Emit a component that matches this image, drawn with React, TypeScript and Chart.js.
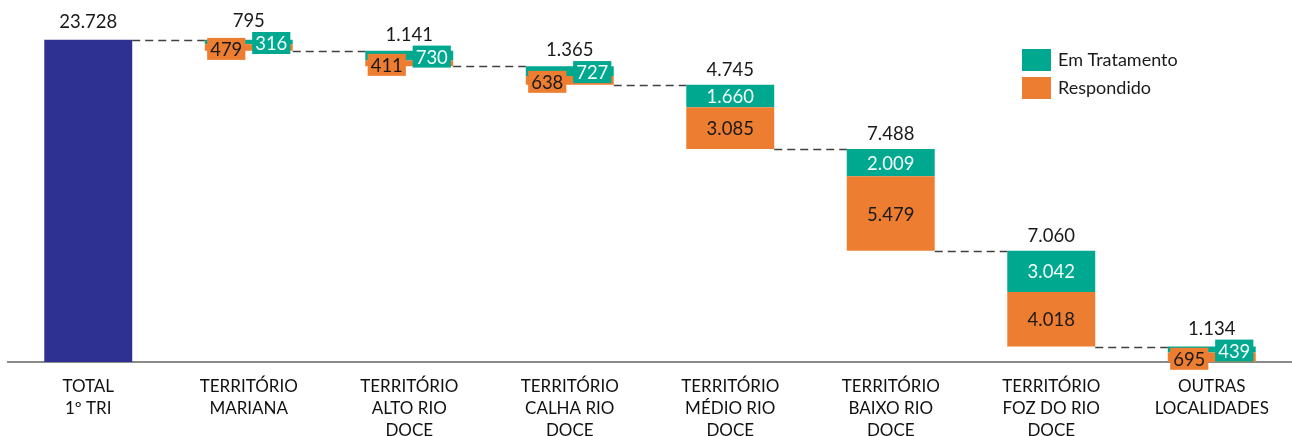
import React, { useEffect, useRef } from "react";
import { Chart, registerables } from "chart.js";

Chart.register(...registerables);

const categories: string[][] = [
  ["TOTAL", "1º TRI"],
  ["TERRITÓRIO", "MARIANA"],
  ["TERRITÓRIO", "ALTO RIO", "DOCE"],
  ["TERRITÓRIO", "CALHA RIO", "DOCE"],
  ["TERRITÓRIO", "MÉDIO RIO", "DOCE"],
  ["TERRITÓRIO", "BAIXO RIO", "DOCE"],
  ["TERRITÓRIO", "FOZ DO RIO", "DOCE"],
  ["OUTRAS", "LOCALIDADES"],
];
const totalValue = 23728;
const respondido = [479, 411, 638, 3085, 5479, 4018, 695];
const emTratamento = [316, 730, 727, 1660, 2009, 3042, 439];

const NAVY = "#2E3192";
const TEAL = "#00A88F";
const ORANGE = "#ED7D31";
const TEXT = "#1a1a1a";
const FONT = "Lato, 'Open Sans', sans-serif";

const fmt = (v: number) => String(v).replace(/\B(?=(\d{3})+(?!\d))/g, ".");

// cumulative levels
const starts: number[] = [];
const ends: number[] = [];
{
  let cur = totalValue;
  for (let i = 0; i < respondido.length; i++) {
    starts.push(cur);
    cur = cur - respondido[i] - emTratamento[i];
    ends.push(cur);
  }
}

const totalData: any[] = [[0, totalValue], ...respondido.map(() => null)];
const respData: any[] = [null, ...respondido.map((r, i) => [ends[i], ends[i] + r])];
const tratData: any[] = [null, ...emTratamento.map((t, i) => [ends[i] + respondido[i], starts[i]])];

const overlayPlugin = {
  id: "waterfallOverlay",
  afterDatasetsDraw(chart: any) {
    const ctx = chart.ctx as CanvasRenderingContext2D;
    const x = chart.scales.x;
    const y = chart.scales.y;
    const metaTotal = chart.getDatasetMeta(0);
    const barW = metaTotal.data[0].width;
    ctx.save();

    // connectors
    ctx.strokeStyle = "#404040";
    ctx.lineWidth = 1.3;
    ctx.setLineDash([8, 5]);
    const levels = [totalValue, ...ends];
    for (let i = 0; i < levels.length - 1; i++) {
      const yy = Math.round(y.getPixelForValue(levels[i])) + 0.5;
      const x1 = x.getPixelForValue(i) + barW / 2;
      const x2 = x.getPixelForValue(i + 1) - barW / 2;
      ctx.beginPath();
      ctx.moveTo(x1, yy);
      ctx.lineTo(x2, yy);
      ctx.stroke();
    }
    ctx.setLineDash([]);

    ctx.font = `18.5px ${FONT}`;
    ctx.textAlign = "center";

    // total label
    ctx.fillStyle = TEXT;
    ctx.textBaseline = "alphabetic";
    ctx.fillText(fmt(totalValue), x.getPixelForValue(0), y.getPixelForValue(totalValue) - 12);

    // territory segments
    for (let i = 0; i < respondido.length; i++) {
      const cx = x.getPixelForValue(i + 1);
      const yTop = y.getPixelForValue(starts[i]);
      const yMid = y.getPixelForValue(ends[i] + respondido[i]);
      const yBot = y.getPixelForValue(ends[i]);
      const hT = yMid - yTop;
      const hR = yBot - yMid;
      let labelTop = yTop - 9;
      if (hT < 22 || hR < 22) {
        const bh = 22;
        const drawBox = (val: string, bx: number, by: number, bg: string, fg: string) => {
          const w = ctx.measureText(val).width + 6;
          ctx.fillStyle = bg;
          ctx.fillRect(bx - w / 2, by - bh / 2, w, bh);
          ctx.fillStyle = fg;
          ctx.textBaseline = "middle";
          ctx.fillText(val, bx, by + 1);
        };
        const cyR = (yMid + yBot) / 2 + 1.5;
        const cyT = (yTop + yMid) / 2 + 1;
        drawBox(fmt(respondido[i]), cx - 22.5, cyR, ORANGE, TEXT);
        drawBox(fmt(emTratamento[i]), cx + 22.5, cyT, TEAL, "#f2fbf9");
        labelTop = Math.min(yTop, cyT - bh / 2) - 5;
      } else {
        ctx.textBaseline = "middle";
        ctx.fillStyle = "#f2fbf9";
        ctx.fillText(fmt(emTratamento[i]), cx, (yTop + yMid) / 2 + 1);
        ctx.fillStyle = TEXT;
        ctx.fillText(fmt(respondido[i]), cx, (yMid + yBot) / 2 + 1);
      }
      ctx.fillStyle = TEXT;
      ctx.textBaseline = "alphabetic";
      ctx.fillText(fmt(respondido[i] + emTratamento[i]), cx, labelTop);
    }

    // legend
    const legendItems = [
      { label: chart.data.datasets[2].label, color: TEAL },
      { label: chart.data.datasets[1].label, color: ORANGE },
    ];
    ctx.font = `18px ${FONT}`;
    ctx.textAlign = "left";
    ctx.textBaseline = "middle";
    legendItems.forEach((it, k) => {
      const ly = 49 + k * 28;
      ctx.fillStyle = it.color;
      ctx.fillRect(1022, ly, 29, 22);
      ctx.fillStyle = TEXT;
      ctx.fillText(it.label, 1058, ly + 11);
    });
    ctx.restore();
  },
};

export default function App() {
  const ref = useRef<HTMLCanvasElement | null>(null);
  useEffect(() => {
    if (!ref.current) return;
    const barCommon = {
      grouped: false,
      barPercentage: 0.548,
      categoryPercentage: 1,
      borderWidth: 0,
    };
    const chart = new Chart(ref.current, {
      type: "bar",
      data: {
        labels: categories,
        datasets: [
          { label: "Total", data: totalData, backgroundColor: NAVY, ...barCommon },
          { label: "Respondido", data: respData, backgroundColor: ORANGE, ...barCommon },
          { label: "Em Tratamento", data: tratData, backgroundColor: TEAL, ...barCommon },
        ],
      },
      options: {
        responsive: false,
        animation: false,
        layout: { padding: { left: 8, right: 0, top: 9, bottom: 0 } },
        plugins: { legend: { display: false }, tooltip: { enabled: false } },
        scales: {
          x: {
            grid: { display: false, drawTicks: false },
            border: { display: true, color: "#8a8a8a", width: 2 },
            ticks: {
              color: "#111",
              padding: 13,
              maxRotation: 0,
              autoSkip: false,
              font: { family: "Lato, sans-serif", size: 17, lineHeight: "22.3px" as any },
            },
            afterFit: (s: any) => {
              s.height = 448 - 362;
            },
          },
          y: { display: false, min: 0, max: 26000 },
        },
      },
      plugins: [overlayPlugin],
    } as any);
    return () => chart.destroy();
  }, []);
  return (
    <div style={{ position: "fixed", left: 0, top: 0, width: 1292, height: 436, overflow: "hidden", background: "#fff" }}>
      <canvas ref={ref} width={1292} height={448} />
    </div>
  );
}
